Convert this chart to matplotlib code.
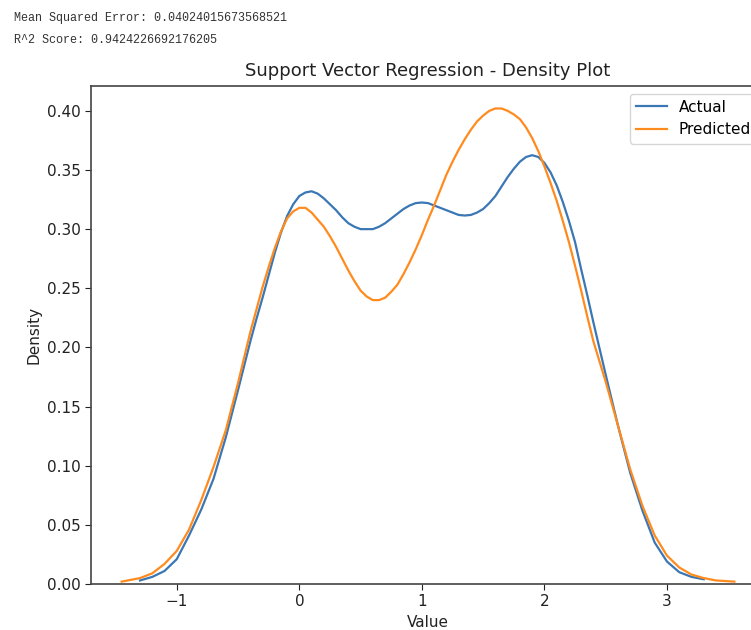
import matplotlib
matplotlib.use("Agg")
import matplotlib.pyplot as plt

# Values
actual_x = [-1.30, -1.20, -1.10, -1.00, -0.90, -0.80, -0.70, -0.60, -0.50, -0.40, -0.35,
            -0.30, -0.25, -0.20, -0.15, -0.10, -0.05, 0.00, 0.05, 0.10, 0.15,
            0.20, 0.25, 0.30, 0.35, 0.40, 0.45, 0.50, 0.55, 0.60, 0.65,
            0.70, 0.75, 0.80, 0.85, 0.90, 0.95, 1.00, 1.05, 1.10, 1.15,
            1.20, 1.25, 1.30, 1.35, 1.40, 1.45, 1.50, 1.55, 1.60, 1.65,
            1.70, 1.75, 1.80, 1.85, 1.90, 1.95, 2.00, 2.05, 2.10, 2.15,
            2.20, 2.25, 2.30, 2.35, 2.40, 2.50, 2.60, 2.70, 2.80, 2.90,
            3.00, 3.10, 3.20, 3.30]
actual_density = [0.003, 0.006, 0.011, 0.021, 0.041, 0.063, 0.089, 0.124, 0.164, 0.205, 0.224,
                  0.242, 0.261, 0.280, 0.297, 0.311, 0.321, 0.328, 0.331, 0.332, 0.330,
                  0.326, 0.321, 0.316, 0.310, 0.305, 0.302, 0.300, 0.300, 0.300, 0.302,
                  0.305, 0.309, 0.313, 0.317, 0.320, 0.322, 0.3225, 0.322, 0.320, 0.318,
                  0.316, 0.314, 0.312, 0.3115, 0.312, 0.314, 0.317, 0.322, 0.328, 0.336,
                  0.344, 0.351, 0.357, 0.361, 0.3625, 0.361, 0.356, 0.348, 0.337, 0.323,
                  0.307, 0.289, 0.266, 0.244, 0.221, 0.177, 0.134, 0.094, 0.062, 0.035,
                  0.019, 0.010, 0.006, 0.004]

predicted_x = [-1.45, -1.30, -1.20, -1.10, -1.00, -0.90, -0.80, -0.70, -0.60, -0.50, -0.40, -0.35,
               -0.30, -0.25, -0.20, -0.15, -0.10, -0.05, 0.00, 0.05, 0.10, 0.15,
               0.20, 0.25, 0.30, 0.35, 0.40, 0.45, 0.50, 0.55, 0.60, 0.65,
               0.70, 0.75, 0.80, 0.85, 0.90, 0.95, 1.00, 1.05, 1.10, 1.15,
               1.20, 1.25, 1.30, 1.35, 1.40, 1.45, 1.50, 1.55, 1.60, 1.65,
               1.70, 1.75, 1.80, 1.85, 1.90, 1.95, 2.00, 2.05, 2.10, 2.15,
               2.20, 2.25, 2.30, 2.35, 2.40, 2.50, 2.60, 2.70, 2.80, 2.90,
               3.00, 3.10, 3.20, 3.30, 3.40, 3.55]
predicted_density = [0.002, 0.005, 0.009, 0.017, 0.028, 0.046, 0.071, 0.099, 0.130, 0.170, 0.213, 0.232,
                     0.251, 0.268, 0.284, 0.298, 0.309, 0.315, 0.318, 0.318, 0.314, 0.308,
                     0.302, 0.294, 0.285, 0.275, 0.265, 0.256, 0.248, 0.243, 0.240, 0.240,
                     0.242, 0.247, 0.253, 0.262, 0.272, 0.283, 0.295, 0.308, 0.320, 0.333,
                     0.346, 0.357, 0.367, 0.376, 0.384, 0.391, 0.396, 0.400, 0.402, 0.402,
                     0.400, 0.397, 0.393, 0.386, 0.377, 0.366, 0.353, 0.339, 0.324, 0.307,
                     0.289, 0.269, 0.248, 0.226, 0.205, 0.171, 0.134, 0.097, 0.066, 0.041,
                     0.024, 0.014, 0.008, 0.005, 0.003, 0.002]

mse_text = "Mean Squared Error: 0.04024015673568521"
r2_text = "R^2 Score: 0.9424226692176205"
title = "Support Vector Regression - Density Plot"
series_labels = ["Actual", "Predicted"]

W, H = 751, 630
fig = plt.figure(figsize=(W / 100, H / 100), dpi=100)
fig.patch.set_facecolor("white")

left, right, top, bottom = 91, 765, 86, 584
ax = fig.add_axes([left / W, (H - bottom) / H, (right - left) / W, (bottom - top) / H])

ax.plot(actual_x, actual_density, color="#3a77b4", lw=1.6, label=series_labels[0],
        solid_joinstyle="round")
ax.plot(predicted_x, predicted_density, color="#ff8a1e", lw=1.6, label=series_labels[1],
        solid_joinstyle="round")

ax.set_xlim(-1.7, 3.8)
ax.set_ylim(0, 0.421)
ax.set_xticks([-1, 0, 1, 2, 3])
ax.set_yticks([0.0, 0.05, 0.10, 0.15, 0.20, 0.25, 0.30, 0.35, 0.40])
ax.set_yticklabels([f"{v:.2f}" for v in ax.get_yticks()])
ax.tick_params(labelsize=11, colors="#222222", length=4)
for s in ax.spines.values():
    s.set_color("#444444")
    s.set_linewidth(1.2)
ax.set_xlabel("Value", fontsize=11, color="#222222")
ax.set_ylabel("Density", fontsize=11, color="#222222")
ax.set_title(title, fontsize=13, color="#222222", pad=7)
ax.legend(loc="upper right", fontsize=11, borderaxespad=0.5)

fig.text(14 / W, 1 - 18 / H, mse_text, family="Liberation Mono", fontsize=8.5,
         color="#333333", va="center", ha="left")
fig.text(14 / W, 1 - 40 / H, r2_text, family="Liberation Mono", fontsize=8.5,
         color="#333333", va="center", ha="left")

fig.savefig("out.png", dpi=100, facecolor="white")
